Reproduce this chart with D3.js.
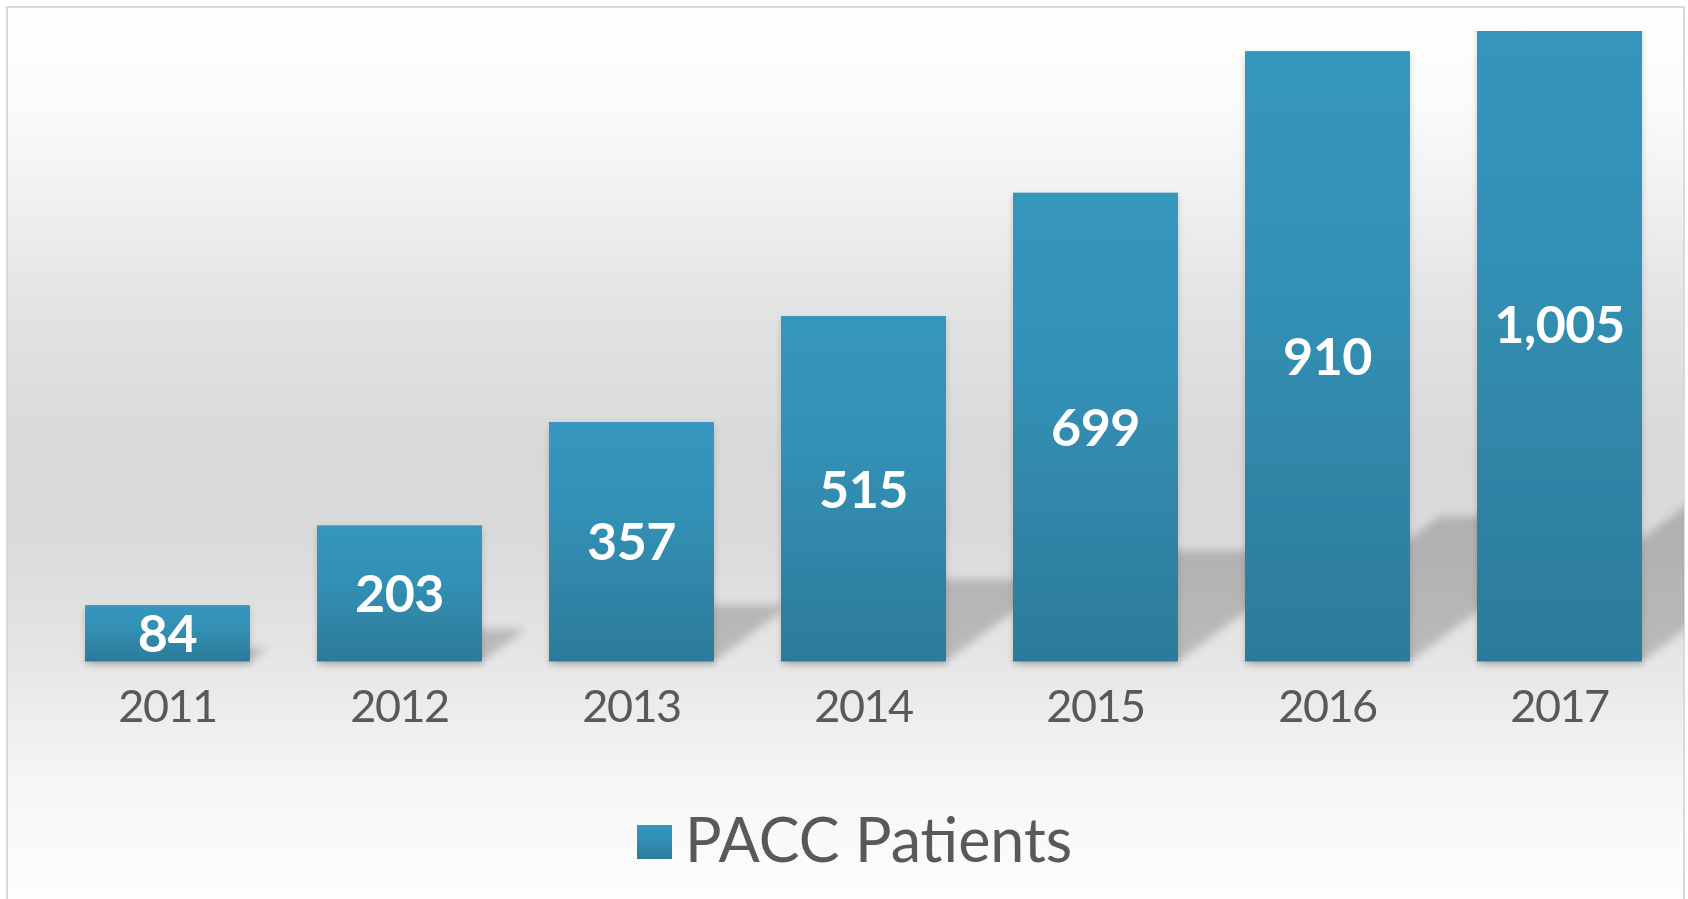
<!DOCTYPE html>
<html>
<head>
<meta charset="utf-8">
<script src="https://cdn.jsdelivr.net/npm/d3@7"></script>
<style>
  html, body { margin: 0; padding: 0; background: #ffffff; }
  svg { display: block; }
  .axisLabel { font-family: Lato, "Open Sans", sans-serif; fill: #595959; }
  .valueLabel { font-family: Lato, "Open Sans", sans-serif; font-weight: 700; fill: #ffffff; }
</style>
</head>
<body>
<div id="chart"></div>
<script>
// data
var years = ["2011", "2012", "2013", "2014", "2015", "2016", "2017"];
var patients = [84, 203, 357, 515, 699, 910, 1005];
var seriesName = "PACC Patients";
var yMax = 940; // axis stops below the last bar, so 2017 gets cut at the top

(function barChart() {
  var width = 1688,
    height = 899;

  //plot area
  var margin = { top: 31, left: 51.5, right: 12.5 };
  var baseline = 661.5;

  var svg = d3.select("#chart").append("svg")
    .attr("width", width)
    .attr("height", height);

  var defs = svg.append("defs");

  // background, white -> grey -> white
  var bg = defs.append("linearGradient")
    .attr("id", "bgGrad")
    .attr("gradientUnits", "userSpaceOnUse")
    .attr("x1", 0).attr("x2", 0)
    .attr("y1", 7).attr("y2", height);
  [[7, "#ffffff"], [100, "#fbfbfb"], [170, "#f4f4f4"], [300, "#e4e4e4"],
   [450, "#d9d9d9"], [530, "#dadada"], [600, "#e0e0e0"], [661, "#e6e6e6"],
   [727, "#efefef"], [793, "#f7f7f7"], [899, "#fdfdfd"]].forEach(function (s) {
    bg.append("stop")
      .attr("offset", (s[0] - 7) / (height - 7))
      .attr("stop-color", s[1]);
  });

  var barGrad = defs.append("linearGradient")
    .attr("id", "barGrad")
    .attr("x1", 0).attr("x2", 0)
    .attr("y1", 0).attr("y2", 1);
  barGrad.append("stop").attr("offset", 0).attr("stop-color", "#3596bd");
  barGrad.append("stop").attr("offset", 0.4).attr("stop-color", "#3390b5");
  barGrad.append("stop").attr("offset", 1).attr("stop-color", "#2c7a99");

  defs.append("clipPath")
    .attr("id", "frameClip")
    .append("rect")
      .attr("x", 7).attr("y", 7)
      .attr("width", 1677).attr("height", height);

  defs.append("clipPath")
    .attr("id", "plotClip")
    .append("rect")
      .attr("x", 7).attr("y", margin.top)
      .attr("width", 1677).attr("height", height);

  var blur = defs.append("filter")
    .attr("id", "blur")
    .attr("x", "-20%").attr("y", "-20%")
    .attr("width", "140%").attr("height", "140%");
  blur.append("feGaussianBlur").attr("stdDeviation", 4);

  var drop = defs.append("filter")
    .attr("id", "drop")
    .attr("x", "-10%").attr("y", "-10%")
    .attr("width", "120%").attr("height", "130%");
  drop.append("feDropShadow")
    .attr("dx", 0).attr("dy", 3)
    .attr("stdDeviation", 3)
    .attr("flood-color", "#000")
    .attr("flood-opacity", 0.18);

  // frame + background
  svg.append("rect")
    .attr("x", 7).attr("y", 7)
    .attr("width", 1677).attr("height", height)
    .style("fill", "url(#bgGrad)")
    .style("stroke", "#d9d9d9")
    .style("stroke-width", 2);

  var x = d3.scaleBand()
    .domain(years)
    .range([margin.left, width - margin.right])
    .paddingInner(0.289)
    .paddingOuter(0.1445);

  var y = d3.scaleLinear()
    .domain([0, yMax])
    .range([baseline, margin.top]);

  var data = years.map(function (yr, i) {
    return { year: yr, value: patients[i] };
  });

  var g = svg.append("g")
    .attr("clip-path", "url(#frameClip)");

  // floor shadows, skewed copies of the bars
  var sy = 0.237, sx = 0.318;
  g.append("g")
    .attr("class", "shadows")
    .attr("filter", "url(#blur)")
    .selectAll("path")
    .data(data)
    .enter().append("path")
      .attr("d", function (d) {
        var x0 = x(d.year), x1 = x0 + x.bandwidth();
        var h = baseline - y(d.value);
        return "M" + x0 + "," + baseline +
          "L" + x1 + "," + baseline +
          "L" + (x1 + h * sx) + "," + (baseline - h * sy) +
          "L" + (x0 + h * sx) + "," + (baseline - h * sy) + "Z";
      })
      .style("fill", "#000")
      .style("opacity", 0.19);

  var bars = g.append("g")
    .attr("class", "bars")
    .attr("clip-path", "url(#plotClip)");

  bars.selectAll("rect")
    .data(data)
    .enter().append("rect")
      .attr("x", function (d) { return x(d.year); })
      .attr("y", function (d) { return y(d.value); })
      .attr("width", x.bandwidth())
      .attr("height", function (d) { return baseline - y(d.value); })
      .attr("filter", "url(#drop)")
      .style("fill", "url(#barGrad)");

  // value labels in the middle of each bar
  var fmt = d3.format(",");
  g.append("g")
    .selectAll("text")
    .data(data)
    .enter().append("text")
      .attr("class", "valueLabel")
      .attr("x", function (d) { return x(d.year) + x.bandwidth() / 2; })
      .attr("y", function (d) { return y(d.value / 2); })
      .attr("text-anchor", "middle")
      .attr("dy", "0.36em")
      .style("font-size", "52px")
      .style("letter-spacing", "-0.5px")
      .text(function (d) { return fmt(d.value); });

  // category axis, no line or ticks
  var xAxis = d3.axisBottom(x).tickSize(0).tickPadding(0);
  var axisG = svg.append("g")
    .attr("transform", "translate(0," + baseline + ")")
    .call(xAxis);
  axisG.select(".domain").remove();
  axisG.selectAll("text")
    .attr("class", "axisLabel")
    .attr("dy", null)
    .attr("y", 60.5)
    .style("font-size", "45px")
    .style("letter-spacing", "-1.5px");

  // legend
  var legend = svg.append("g")
    .attr("class", "legend")
    .attr("transform", "translate(637,825)");
  legend.append("rect")
    .attr("width", 35).attr("height", 34)
    .style("fill", "url(#barGrad)");
  legend.append("text")
    .attr("class", "axisLabel")
    .attr("x", 48)
    .attr("y", 37)
    .style("font-size", "61px")
    .text(seriesName);
})();
</script>
</body>
</html>
